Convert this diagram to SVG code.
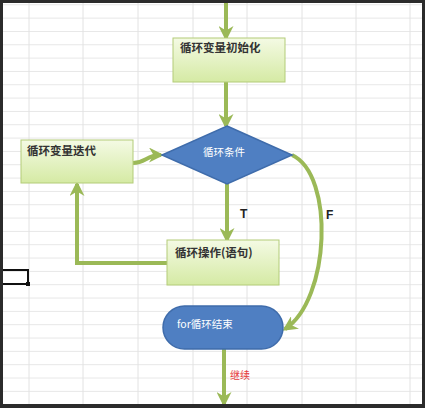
<svg xmlns="http://www.w3.org/2000/svg" width="425" height="408" viewBox="0 0 425 408">
<defs>
<linearGradient id="boxg" x1="0" y1="0" x2="0" y2="1">
<stop offset="0" stop-color="#f4fae4"/>
<stop offset="1" stop-color="#d5eaa4"/>
</linearGradient>
<marker id="ah" viewBox="0 0 10 10" refX="8" refY="5" markerWidth="15" markerHeight="15" markerUnits="userSpaceOnUse" orient="auto">
<path d="M0,0 L10,5 L0,10 L3,5 z" fill="#9bb957"/>
</marker>
<pattern id="grid" x="0" y="4.3" width="425" height="13.33" patternUnits="userSpaceOnUse">
<line x1="0" y1="0.5" x2="425" y2="0.5" stroke="#e6e6e6" stroke-width="1"/>
</pattern>
</defs>
<style>
.box{fill:url(#boxg);stroke:#b3cc78;stroke-width:1}
.blue{fill:#4f7fc2;stroke:#3f6cab;stroke-width:1.5}
.lbl{font-family:"Noto Sans CJK SC","Noto Sans",sans-serif;font-size:11.5px;font-weight:bold;fill:#333}
.wlbl{font-family:"Noto Sans CJK SC","Noto Sans",sans-serif;font-size:10.5px;fill:#fff}
.tf{font-family:"Liberation Sans",Arial,sans-serif;font-size:12px;font-weight:bold;fill:#222}
.conn{fill:none;stroke:#9bb957;stroke-width:4;marker-end:url(#ah)}
.vg{stroke:#e2e2e2;stroke-width:1}
</style>
<rect x="0" y="0" width="425" height="408" fill="#ffffff"/>
<rect x="0" y="0" width="425" height="408" fill="url(#grid)"/>
<g class="vg">
<line x1="29" y1="0" x2="29" y2="408"/>
<line x1="83" y1="0" x2="83" y2="408"/>
<line x1="138" y1="0" x2="138" y2="408"/>
<line x1="193" y1="0" x2="193" y2="408"/>
<line x1="247" y1="0" x2="247" y2="408"/>
<line x1="302" y1="0" x2="302" y2="408"/>
<line x1="356" y1="0" x2="356" y2="408"/>
<line x1="410" y1="0" x2="410" y2="408"/>
</g>
<g id="selection" fill="none" stroke="#111" stroke-width="2">
<path d="M3,270 H28 V284 H3"/>
<rect x="26" y="282" width="4" height="4" fill="#111" stroke="none"/>
</g>
<g id="connectors">
<path class="conn" d="M226,0 V38"/>
<path class="conn" d="M226,82 V126"/>
<path class="conn" d="M133,163 C146,163 146,155 161,155"/>
<path class="conn" d="M227,184 V240"/>
<path class="conn" d="M167,263 H77 V184"/>
<path class="conn" d="M292,155 C335,175 330,300 285,329"/>
<path class="conn" d="M224,349 V404"/>
<text class="tf" x="240" y="218">T</text>
<text class="tf" x="326" y="219">F</text>
<text x="230" y="379" style="font-family:'Noto Sans CJK SC',sans-serif;font-size:10px;fill:#e53b3b">继续</text>
</g>
<g id="init">
<rect class="box" x="173" y="38" width="112" height="44"/>
<text class="lbl" x="180" y="52">循环变量初始化</text>
</g>
<g id="cond">
<polygon class="blue" points="227,126 292,155 227,184 162,155"/>
<text class="wlbl" x="203" y="156">循环条件</text>
</g>
<g id="iter">
<rect class="box" x="21" y="140" width="112" height="43"/>
<text class="lbl" x="27" y="155">循环变量迭代</text>
</g>
<g id="body">
<rect class="box" x="167" y="240" width="112" height="45"/>
<text class="lbl" x="175" y="257">循环操作(语句)</text>
</g>
<g id="end">
<rect class="blue" x="163" y="306" width="120" height="43" rx="21.5" ry="21.5"/>
<text class="wlbl" x="177" y="328">for循环结束</text>
</g>
<g id="frame" fill="#2b2b2b">
<rect x="0" y="0" width="425" height="3"/>
<rect x="0" y="0" width="3" height="408"/>
<rect x="422" y="0" width="3" height="408"/>
<rect x="0" y="404" width="425" height="4"/>
</g>
</svg>
